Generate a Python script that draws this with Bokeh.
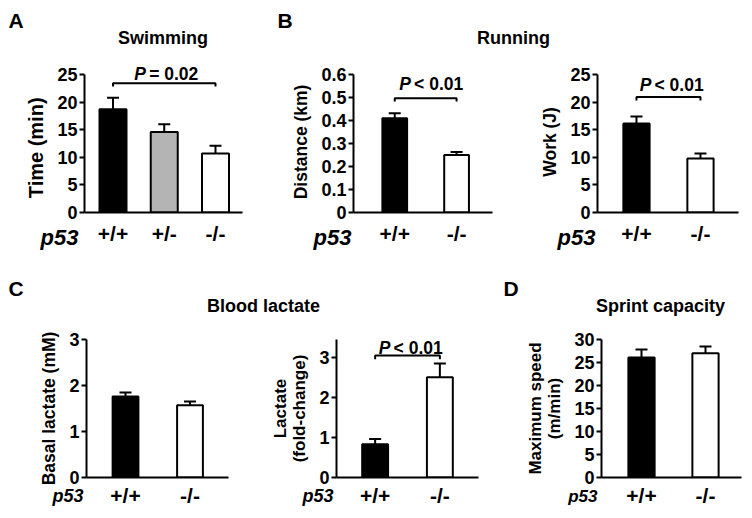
from bokeh.plotting import figure
from bokeh.layouts import column, row
from bokeh.models import (Range1d, FixedTicker, PrintfTickFormatter, Label,
                          Whisker, TeeHead, ColumnDataSource)
from bokeh.embed import file_html
from bokeh.resources import INLINE

FONT = "Liberation Sans"

# ---------------- data ----------------
genotypes_3 = ["+/+", "+/-", "-/-"]
genotypes_2 = ["+/+", "-/-"]
colors_3 = ["#000000", "#b4b4b4", "#ffffff"]
colors_2 = ["#000000", "#ffffff"]

swim_mean = [18.7, 14.6, 10.7]
swim_err = [2.1, 1.4, 1.4]
dist_mean = [0.41, 0.25]
dist_err = [0.021, 0.013]
work_mean = [16.1, 9.8]
work_err = [1.3, 0.9]
basal_mean = [1.76, 1.57]
basal_err = [0.09, 0.08]
fold_mean = [0.83, 2.5]
fold_err = [0.13, 0.34]
speed_mean = [26.1, 27.0]
speed_err = [1.7, 1.5]

swim_ticks = [0, 5, 10, 15, 20, 25]
dist_ticks = [0, 0.1, 0.2, 0.3, 0.4, 0.5, 0.6]
work_ticks = [0, 5, 10, 15, 20, 25]
basal_ticks = [0, 1, 2, 3]
fold_ticks = [0, 1, 2, 3]
speed_ticks = [0, 5, 10, 15, 20, 25, 30]


def panel(width, height, bl, br, bt, bb, xr, yr, ybounds, yticks, ylabel, ysize, cats,
          colors, means, errs, bar_w, xstandoff, p53):
    p = figure(width=width, height=height, x_range=Range1d(*xr), y_range=Range1d(*yr),
               output_backend="svg", toolbar_location=None, title=None,
               min_border_left=bl, min_border_right=br, min_border_top=bt,
               min_border_bottom=bb)
    p.xgrid.visible = False
    p.ygrid.visible = False
    p.outline_line_color = None
    xs = list(range(len(cats)))
    src = ColumnDataSource(dict(x=xs, top=means,
                                upper=[m + e for m, e in zip(means, errs)],
                                color=colors))
    p.vbar(x="x", top="top", bottom=0, width=bar_w, fill_color="color",
           line_color="black", line_width=2, source=src)
    p.add_layout(Whisker(source=src, base="x", lower="top", upper="upper",
                         line_width=2, line_color="black",
                         upper_head=TeeHead(size=12, line_width=2, line_color="black"),
                         lower_head=None))
    xa = p.xaxis[0]
    xa.ticker = FixedTicker(ticks=xs)
    xa.major_label_overrides = {i: c for i, c in zip(xs, cats)}
    xa.major_tick_out = 0
    xa.major_tick_in = 0
    xa.minor_tick_line_color = None
    xa.axis_line_width = 2
    xa.major_label_text_font = FONT
    xa.major_label_text_font_style = "bold"
    xa.major_label_text_font_size = "21px"
    xa.major_label_text_color = "black"
    xa.major_label_standoff = xstandoff
    ya = p.yaxis[0]
    ya.bounds = ybounds
    ya.ticker = FixedTicker(ticks=yticks)
    ya.formatter = PrintfTickFormatter(format="%g")
    ya.major_tick_out = 5
    ya.major_tick_in = 0
    ya.major_tick_line_width = 2
    ya.minor_tick_line_color = None
    ya.axis_line_width = 2
    ya.major_label_text_font = FONT
    ya.major_label_text_font_style = "bold"
    ya.major_label_text_font_size = "18px"
    ya.major_label_text_color = "black"
    ya.major_label_standoff = 2
    ya.axis_label = ylabel
    ya.axis_label_text_font = FONT
    ya.axis_label_text_font_style = "bold"
    ya.axis_label_text_font_size = ysize
    ya.axis_label_text_line_height = 1.0
    ya.axis_label_text_color = "black"
    ya.axis_label_standoff = 7
    side, lx, ly, lsize = p53
    p.add_layout(Label(x=lx, y=ly, x_units="screen", y_units="screen", text="p53",
                       text_align="right", text_baseline="middle",
                       text_font=FONT, text_font_style="bold italic",
                       text_font_size=lsize, text_color="black"), side)
    return p


def bracket(p, x0, x1, y, drop, tx, rise, ptext):
    p.line(x=[x0, x0, x1, x1], y=[y - drop, y, y, y - drop], line_color="black",
           line_width=2)
    half = 32
    p.add_layout(Label(x=tx, y=y, x_offset=-half, y_offset=rise, text="P",
                       text_align="left", text_baseline="middle",
                       text_font=FONT, text_font_style="bold italic",
                       text_font_size="17.5px", text_color="black"))
    p.add_layout(Label(x=tx, y=y, x_offset=half, y_offset=rise, text=ptext,
                       text_align="right", text_baseline="middle",
                       text_font=FONT, text_font_style="bold",
                       text_font_size="17.5px", text_color="black"))


# ---------- row 1 (page y 48..272); frames 66..213, axes drawn to 74 ----------
pA = panel(288, 224, 84, 46, 18, 59, (-0.556, 2.527), (0, 26.44), (0, 25), swim_ticks,
           "Time (min)   ", "20px", genotypes_3, colors_3, swim_mean, swim_err, 0.527, 9,
           ("below", -6, 35, "22px"))
bracket(pA, 0, 2, 23.4, 0.6, 1.04, 9, "= 0.02")

pBL = panel(242, 224, 59, 38, 18, 59, (-0.667, 1.581), (0, 0.6345), (0, 0.6), dist_ticks,
            "Distance (km) ", "17.5px", genotypes_2, colors_2, dist_mean, dist_err, 0.40, 9,
            ("below", -2, 35, "22px"))
bracket(pBL, 0, 1, 0.497, 0.015, 0.59, 14, "< 0.01")

pBR = panel(222, 224, 67, 14, 18, 59, (-0.609, 1.594), (0, 26.44), (0, 25), work_ticks,
            "Work (J) ", "17.5px", genotypes_2, colors_2, work_mean, work_err, 0.41, 9,
            ("below", -2, 35, "22px"))
bracket(pBR, 0, 1, 20.9, 0.6, 0.55, 12, "< 0.01")

# ---------- row 2 (page y 317..516) ----------
pCL = panel(268, 199, 86, 40, 22, 39, (-0.605, 1.597), (0, 3), (0, 3), basal_ticks,
            "Basal lactate (mM)", "17.5px", genotypes_2, colors_2, basal_mean, basal_err,
            0.40, 6, ("right", -145, -18.5, "18px"))

pCR = panel(250, 199, 68, 40, 22, 39, (-0.597, 1.597), (0, 3.44), (0, 3.44), fold_ticks,
            "Lactate\n(fold-change)", "17px", genotypes_2, colors_2, fold_mean, fold_err,
            0.40, 6, ("right", -145, -18.5, "18px"))
bracket(pCR, 0, 1, 3.04, 0.09, 0.55, 8, "< 0.01")

pD = panel(234, 199, 83, 11, 22, 39, (-0.625, 1.5625), (0, 30), (0, 30), speed_ticks,
           "Maximum speed\n(m/min)", "17px", genotypes_2, colors_2, speed_mean, speed_err,
           0.41, 6, ("above", -4, -156.5, "17px"))


def header(height, items):
    h = figure(width=752, height=height, x_range=Range1d(0, 752), y_range=Range1d(height, 0),
               output_backend="svg", toolbar_location=None, x_axis_type=None,
               y_axis_type=None, min_border=0, title=None)
    h.xgrid.visible = False
    h.ygrid.visible = False
    h.outline_line_color = None
    for (x, y, t, align, size) in items:
        h.add_layout(Label(x=x, y=y, text=t, text_align=align, text_baseline="middle",
                           text_font=FONT, text_font_style="bold", text_font_size=size,
                           text_color="black"))
    return h


h1 = header(48, [(8, 19.5, "A", "left", "21px"), (162.5, 37, "Swimming", "center", "18px"),
                 (277, 19.5, "B", "left", "21px"), (513, 37, "Running", "center", "18px")])
h2 = header(45, [(8, 15.5, "C", "left", "21px"), (263, 33.5, "Blood lactate", "center", "18px"),
                 (503, 15.5, "D", "left", "21px"), (660, 33.5, "Sprint capacity", "center", "18px")])

layout = column(h1, row(pA, pBL, pBR), h2, row(pCL, pCR, pD))

open("out.html", "w").write(file_html(layout, INLINE))
